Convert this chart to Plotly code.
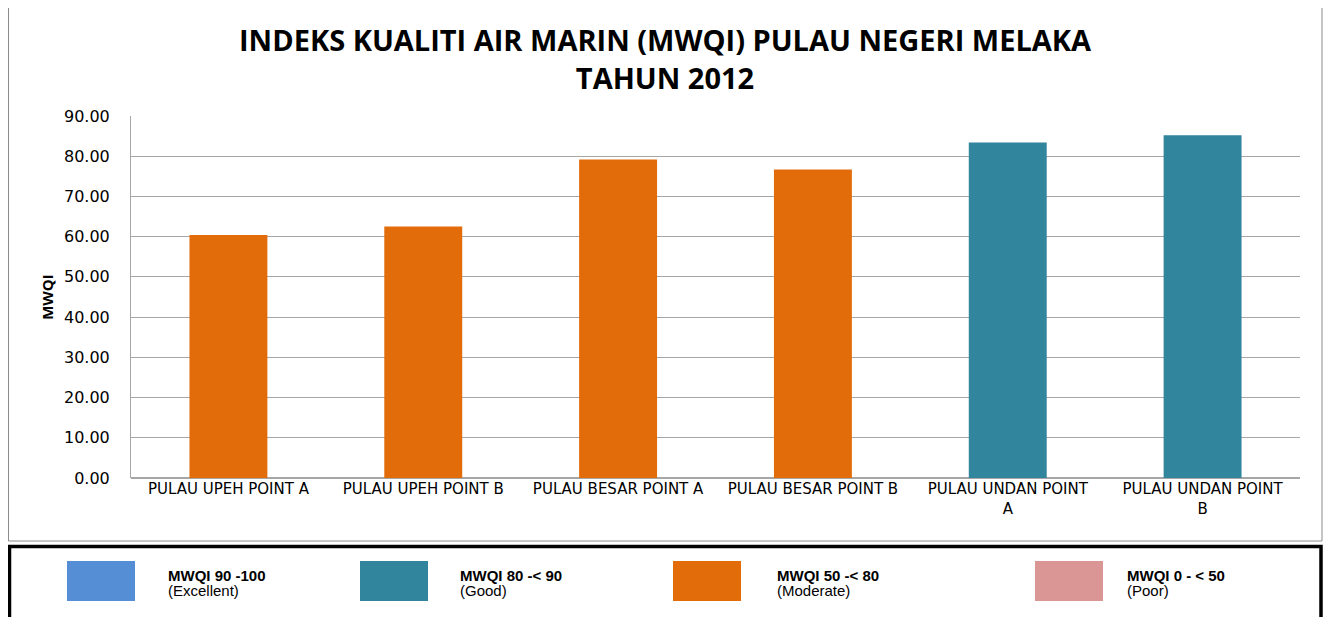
import plotly.graph_objects as go

categories = ["PULAU UPEH POINT A", "PULAU UPEH POINT B", "PULAU BESAR POINT A",
              "PULAU BESAR POINT B", "PULAU UNDAN POINT<br>A", "PULAU UNDAN POINT<br>B"]
mwqi = [60.4, 62.5, 79.2, 76.7, 83.4, 85.2]
bar_colors = ["#E36C0A", "#E36C0A", "#E36C0A", "#E36C0A", "#31859C", "#31859C"]
y_ticks = [0, 10, 20, 30, 40, 50, 60, 70, 80, 90]

legend_labels = ["MWQI 90 -100", "MWQI 80 -< 90", "MWQI 50 -< 80", "MWQI 0 - < 50"]
legend_sub = ["(Excellent)", "(Good)", "(Moderate)", "(Poor)"]
legend_colors = ["#558ED5", "#31859C", "#E36C0A", "#D99694"]

OFF = 8  # page body margin
W, H = 1323, 609
L, T = 131 - OFF, 116 - OFF
PW, PH = 1169, 362
R = W - L - PW
B = H - T - PH


def px(x):
    return (x - OFF - L) / PW


def py(y):
    return (H - B - (y - OFF)) / PH


fig = go.Figure(go.Bar(
    x=categories, y=mwqi, marker=dict(color=bar_colors, line=dict(width=0)),
    width=0.4, showlegend=False,
))

shapes = []
annotations = []
# outer chart border
shapes.append(dict(type="rect", xref="paper", yref="paper", x0=px(8.5), x1=px(1322), y0=py(541), y1=py(7.5),
                   line=dict(color="#8C8C8C", width=1), layer="below"))
# legend box
shapes.append(dict(type="rect", xref="paper", yref="paper", x0=px(9.5), x1=px(1321), y0=py(630), y1=py(546.5),
                   line=dict(color="black", width=3.5)))
sq_x = [67, 360, 673, 1035]
tx_x = [166, 458, 775, 1125]
for i in range(4):
    shapes.append(dict(type="rect", xref="paper", yref="paper", x0=px(sq_x[i]), x1=px(sq_x[i] + 68),
                       y0=py(601), y1=py(561), fillcolor=legend_colors[i], line=dict(width=0)))
    annotations.append(dict(xref="paper", yref="paper", x=px(tx_x[i]), y=py(575), xanchor="left", yanchor="middle",
                            text="<b>" + legend_labels[i] + "</b>", showarrow=False,
                            font=dict(family="Liberation Sans, Arial", size=15, color="black")))
    annotations.append(dict(xref="paper", yref="paper", x=px(tx_x[i]), y=py(590), xanchor="left", yanchor="middle",
                            text=legend_sub[i], showarrow=False,
                            font=dict(family="Liberation Sans, Arial", size=15, color="black")))

annotations.append(dict(xref="paper", yref="paper", x=px(665), y=py(58), xanchor="center", yanchor="middle",
                        text="<b>INDEKS KUALITI AIR MARIN (MWQI) PULAU NEGERI MELAKA<br>TAHUN 2012</b>",
                        showarrow=False, align="center",
                        font=dict(family="Open Sans", size=29, color="black")))

fig.update_layout(
    width=W, height=H,
    margin=dict(l=L, r=R, t=T, b=B, autoexpand=False),
    paper_bgcolor="white", plot_bgcolor="white",
    shapes=shapes, annotations=annotations,
    bargap=0.6,
    xaxis=dict(showgrid=False, showline=False, ticks="", tickangle=0,
               tickfont=dict(family="DejaVu Sans", size=15, color="black")),
    yaxis=dict(range=[0, 90], tickvals=y_ticks, tickformat=".2f", showgrid=True, gridcolor="#A6A6A6",
               gridwidth=1, zeroline=True, zerolinecolor="#A6A6A6", showline=True, linecolor="#A6A6A6",
               ticks="", ticklabelstandoff=17,
               tickfont=dict(family="DejaVu Sans", size=16, color="black"),
               title=dict(text="<b>MWQI</b>", font=dict(family="Open Sans", size=15, color="black"), standoff=6)),
)

fig.write_html("out.html")
